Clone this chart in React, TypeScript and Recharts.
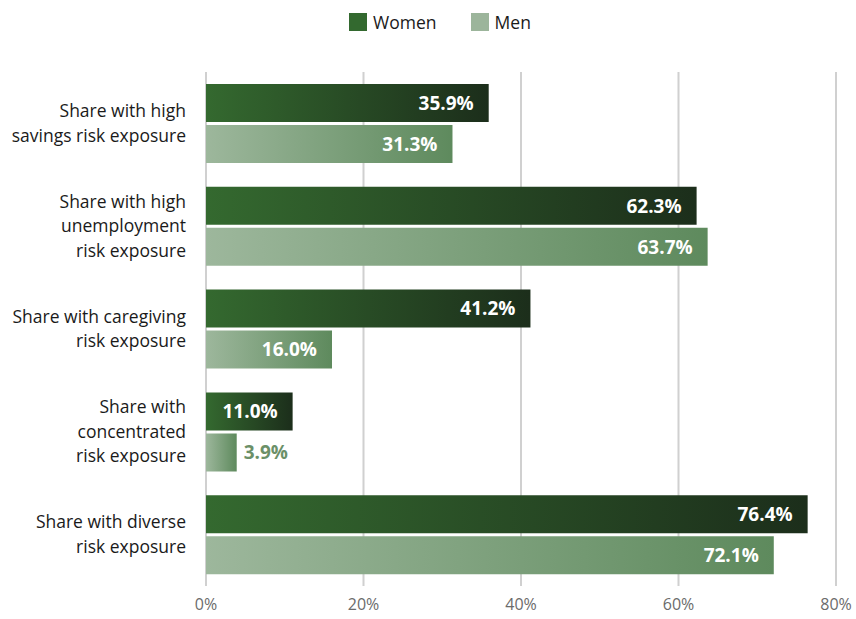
import React from "react";
import { BarChart, Bar, XAxis, YAxis, CartesianGrid, Legend } from "recharts";

const categories = [
  ["Share with high", "savings risk exposure"],
  ["Share with high", "unemployment", "risk exposure"],
  ["Share with caregiving", "risk exposure"],
  ["Share with", "concentrated", "risk exposure"],
  ["Share with diverse", "risk exposure"],
];
const women = [35.9, 62.3, 41.2, 11.0, 76.4];
const men = [31.3, 63.7, 16.0, 3.9, 72.1];
const xTicks = [0, 20, 40, 60, 80];

const data = categories.map((c, i) => ({ name: c.join("|"), women: women[i], men: men[i] }));

const FONT = "'Open Sans', 'Noto Sans', sans-serif";

const CategoryTick = (props: any) => {
  const { x, y, payload } = props;
  const lines: string[] = payload.value.split("|");
  const lh = 24.5;
  const start = y - ((lines.length - 1) * lh) / 2;
  return (
    <text x={x} textAnchor="end" fontFamily={FONT} fontSize={17.5} fill="#1a1a1a">
      {lines.map((l, i) => (
        <tspan key={i} x={x} y={start + i * lh} dy="0.35em">
          {l}
        </tspan>
      ))}
    </text>
  );
};

const makeLabel = (outsideColor: string) => (props: any) => {
  const { x, y, width, height, value } = props;
  const txt = `${Number(value).toFixed(1)}%`;
  const inside = width > 60;
  return (
    <text
      x={inside ? x + width - 15 : x + width + 7}
      y={y + height / 2}
      dy="0.36em"
      textAnchor={inside ? "end" : "start"}
      fontFamily={FONT}
      fontWeight="bold"
      fontSize={19}
      fill={inside ? "#ffffff" : outsideColor}
    >
      {txt}
    </text>
  );
};

const LegendContent = () => (
  <div style={{ display: "flex", justifyContent: "center", gap: 34, fontFamily: FONT, fontSize: 17.5, color: "#1a1a1a", paddingLeft: 24 }}>
    <div style={{ display: "flex", alignItems: "center", gap: 6 }}>
      <span style={{ width: 18, height: 18, background: "#33692f", display: "inline-block" }} />
      Women
    </div>
    <div style={{ display: "flex", alignItems: "center", gap: 6 }}>
      <span style={{ width: 18, height: 18, background: "#9cb59b", display: "inline-block" }} />
      Men
    </div>
  </div>
);

export default function App() {
  return (
    <div style={{ position: "absolute", left: 0, top: 0 }}>
      <BarChart
        width={856}
        height={619}
        data={data}
        layout="vertical"
        margin={{ top: 48, right: 20, bottom: 0, left: 0 }}
        barSize={38}
        barGap={3}
      >
        <defs>
          <linearGradient id="gWomen" x1="0" y1="0" x2="1" y2="0">
            <stop offset="0%" stopColor="#34692f" />
            <stop offset="100%" stopColor="#1c2e1b" />
          </linearGradient>
          <linearGradient id="gMen" x1="0" y1="0" x2="1" y2="0">
            <stop offset="0%" stopColor="#9db79c" />
            <stop offset="100%" stopColor="#5e8a5d" />
          </linearGradient>
        </defs>
        <CartesianGrid horizontal={false} stroke="#d0d0d0" strokeWidth={2} />
        <XAxis
          type="number"
          domain={[0, 80]}
          ticks={xTicks}
          tickFormatter={(v) => `${v}%`}
          axisLine={false}
          tickLine={false}
          tickSize={0}
          tickMargin={13}
          height={33}
          tick={{ fontFamily: FONT, fontSize: 16, fill: "#6b6b6b" }}
        />
        <YAxis
          type="category"
          dataKey="name"
          width={206}
          axisLine={false}
          tickLine={false}
          tickSize={0}
          tickMargin={20}
          tick={<CategoryTick />}
          interval={0}
        />
        <Legend verticalAlign="top" align="center" content={<LegendContent />} wrapperStyle={{ top: 10, left: 0, width: 856 }} />
        <Bar dataKey="women" fill="url(#gWomen)" isAnimationActive={false} label={makeLabel("#1c2e1b")} />
        <Bar dataKey="men" fill="url(#gMen)" isAnimationActive={false} label={makeLabel("#6b9068")} />
      </BarChart>
    </div>
  );
}
